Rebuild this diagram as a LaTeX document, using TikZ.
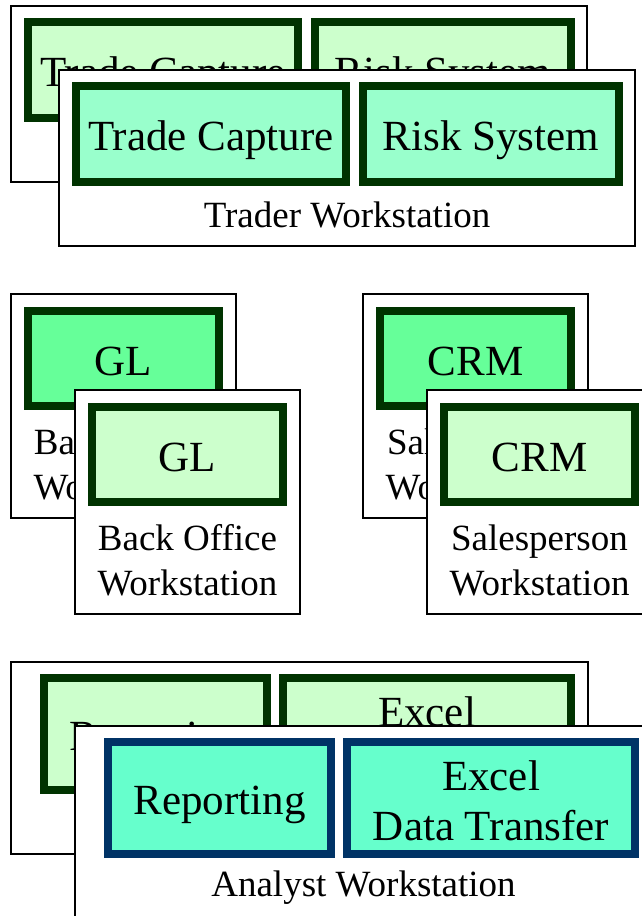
\documentclass[tikz,border=0pt]{standalone}
\usepackage{fontspec}
\setmainfont{Liberation Serif}
\definecolor{dkgreen}{HTML}{003300}
\definecolor{navy}{HTML}{003366}
\definecolor{palegreen}{HTML}{CCFFCC}
\definecolor{mint}{HTML}{99FFCC}
\definecolor{brightgreen}{HTML}{66FF99}
\definecolor{aqua}{HTML}{66FFCC}
\newcommand\appfont{\fontsize{43}{50}\selectfont}
\newcommand\lblfont{\fontsize{37}{45}\selectfont}
\tikzset{
  wsbox/.style={rectangle, draw=black, line width=1.3pt, fill=white, inner sep=0pt},
  appbox/.style={rectangle, draw=dkgreen, line width=8pt, inner sep=0pt,
                 font=\appfont, align=center},
  % single-line application boxes: fixed metrics so the caps sit at the same height
  appline/.style={appbox, text height=42pt, text depth=8.6pt},
  wslabel/.style={font=\lblfont, align=center, inner sep=0pt}
}
\begin{document}
\begin{tikzpicture}[x=1pt,y=-1pt]
\useasboundingbox (0,0) rectangle (642,916);
\clip (0,0) rectangle (642,916);

% ---- Trader workstations ----
\node[wsbox, minimum width=576pt, minimum height=176pt] (trBack) at (299,94) {};
\node[appline, fill=palegreen, minimum width=270pt, minimum height=96pt] (tcBack) at (163,70) {Trade Capture};
\node[appline, fill=palegreen, minimum width=256pt, minimum height=96pt] (rsBack) at (443,70) {Risk System};

\node[wsbox, minimum width=576pt, minimum height=176pt] (trFront) at (347,158) {};
\node[appline, fill=mint, minimum width=270pt, minimum height=96pt] (tcFront) at (211,134) {Trade Capture};
\node[appline, fill=mint, minimum width=256pt, minimum height=96pt] (rsFront) at (491,134) {Risk System};
\node[wslabel] (trLabel) at (347,215) {Trader Workstation};

% ---- Back office workstations ----
\node[wsbox, minimum width=225pt, minimum height=224pt] (boBack) at (123.5,406) {};
\node[appline, fill=brightgreen, minimum width=191pt, minimum height=95pt] (glBack) at (123.5,358.5) {GL};
\node[wslabel] (boBackLabel) at (123.5,464.5) {Back Office\\Workstation};

\node[wsbox, minimum width=225pt, minimum height=224pt] (boFront) at (187.5,502) {};
\node[appline, fill=palegreen, minimum width=191pt, minimum height=95pt] (glFront) at (187.5,454.5) {GL};
\node[wslabel] (boFrontLabel) at (187.5,560.5) {Back Office\\Workstation};

% ---- Salesperson workstations ----
\node[wsbox, minimum width=225pt, minimum height=224pt] (spBack) at (475.5,406) {};
\node[appline, fill=brightgreen, minimum width=191pt, minimum height=95pt] (crmBack) at (475.5,358.5) {CRM};
\node[wslabel] (spBackLabel) at (475.5,464.5) {Salesperson\\Workstation};

\node[wsbox, minimum width=225pt, minimum height=224pt] (spFront) at (539.5,502) {};
\node[appline, fill=palegreen, minimum width=191pt, minimum height=95pt] (crmFront) at (539.5,454.5) {CRM};
\node[wslabel] (spFrontLabel) at (539.5,560.5) {Salesperson\\Workstation};

% ---- Analyst workstations ----
\node[wsbox, minimum width=577pt, minimum height=192pt] (anBack) at (299.5,758) {};
\node[appline, fill=palegreen, minimum width=223pt, minimum height=112pt] (repBack) at (155.5,734) {Reporting};
\node[appbox, fill=palegreen, minimum width=288pt, minimum height=112pt] (xlBack) at (427,734) {\rule{0pt}{36pt}Excel\\Data Transfer};

\node[wsbox, minimum width=577pt, minimum height=192pt] (anFront) at (363.5,822) {};
\node[appline, draw=navy, fill=aqua, minimum width=223pt, minimum height=112pt] (repFront) at (219.5,798) {Reporting};
\node[appbox, draw=navy, fill=aqua, minimum width=288pt, minimum height=112pt] (xlFront) at (491,798) {\rule{0pt}{36pt}Excel\\Data Transfer};
\node[wslabel] (anLabel) at (363.5,888) {Analyst Workstation};
\end{tikzpicture}
\end{document}
